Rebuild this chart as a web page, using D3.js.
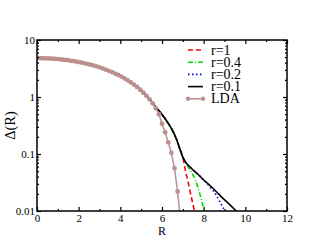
<!DOCTYPE html>
<html>
<head>
<meta charset="utf-8">
<script src="https://cdn.jsdelivr.net/npm/d3@7"></script>
<style>
  body { margin: 0; background: #fff; }
  text { font-family: "Liberation Serif", "DejaVu Serif", serif; }
</style>
</head>
<body>
<div id="chart"></div>
<script>
// LDA curve (R, Delta)
const ldaR = [0, 0.15, 0.3, 0.45, 0.6, 0.75, 0.9, 1.05, 1.2, 1.35, 1.5, 1.65, 1.8, 1.95,
  2.1, 2.25, 2.4, 2.55, 2.7, 2.85, 3.0, 3.15, 3.3, 3.45, 3.6, 3.75, 3.9, 4.05, 4.2, 4.35,
  4.5, 4.65, 4.8, 4.95, 5.1, 5.25, 5.4, 5.55, 5.7, 5.85, 6.0, 6.15, 6.3, 6.45, 6.6, 6.75, 6.9]
const ldaVal = [4.80, 4.80, 4.78, 4.76, 4.74, 4.70, 4.66, 4.61, 4.55, 4.48, 4.41, 4.32, 4.24, 4.14,
  4.04, 3.93, 3.82, 3.70, 3.58, 3.45, 3.31, 3.17, 3.03, 2.88, 2.74, 2.58, 2.43, 2.28, 2.12, 1.96,
  1.81, 1.65, 1.50, 1.34, 1.19, 1.05, 0.91, 0.775, 0.64, 0.50, 0.34, 0.24, 0.16, 0.105, 0.056, 0.022, 0.006]

// part shared by all r curves
const sharedR = [0, 1, 2, 3, 4, 4.5, 5, 5.5, 5.7, 5.9, 6.1, 6.3, 6.5, 6.7, 6.85, 7.0]
const sharedVal = [4.8, 4.62, 4.10, 3.31, 2.33, 1.81, 1.30, 0.83, 0.66, 0.55, 0.44, 0.345, 0.26, 0.18, 0.125, 0.088]

// tails where the r curves split
const r1R = [7.1, 7.2, 7.3, 7.4, 7.5, 7.6, 7.7]
const r1Val = [0.057, 0.039, 0.027, 0.018, 0.0125, 0.0085, 0.0058]
const r04R = [7.1, 7.2, 7.4, 7.6, 7.8, 8.0, 8.1]
const r04Val = [0.076, 0.064, 0.049, 0.035, 0.021, 0.011, 0.0078]
const r02R = [7.1, 7.2, 7.35, 7.5, 7.7, 8.0, 8.3, 8.6, 8.8, 9.0, 9.1]
const r02Val = [0.075, 0.067, 0.059, 0.052, 0.045, 0.035, 0.0265, 0.019, 0.014, 0.0103, 0.0088]
const r01R = [7.1, 7.2, 7.35, 7.5, 7.7, 8.0, 8.3, 8.6, 8.9, 9.2, 9.5, 9.7]
const r01Val = [0.075, 0.067, 0.059, 0.052, 0.045, 0.035, 0.028, 0.022, 0.017, 0.0135, 0.0105, 0.0088]

const xTicks = [0, 2, 4, 6, 8, 10, 12]
const xMinor = [1, 3, 5, 7, 9, 11]
const yTicks = [0.01, 0.1, 1, 10]
const yTickLabels = ["0.01", "0.1", "1", "10"]
const legendLabels = ["r=1", "r=0.4", "r=0.2", "r=0.1", "LDA"]

const width = 323
const height = 249
const marginLeft = 37
const marginRight = 36
const marginTop = 40
const marginBottom = 38

const svg = d3.select('#chart').append('svg')
              .attr('width', width)
              .attr('height', height)
              .attr('viewBox', [0, 0, width, height])
              .style('display', 'block')

const x = d3.scaleLinear().domain([0, 12]).range([marginLeft, width - marginRight])
const y = d3.scaleLog().domain([0.01, 10]).range([height - marginBottom, marginTop])

const zip = (rs, vs) => rs.map((r, i) => [r, vs[i]])
const series = [
  {label: legendLabels[0], data: zip(sharedR, sharedVal).concat(zip(r1R, r1Val)), color: '#ff0000', dash: '5,3'},
  {label: legendLabels[1], data: zip(sharedR, sharedVal).concat(zip(r04R, r04Val)), color: '#00e000', dash: '5,2,1,2'},
  {label: legendLabels[2], data: zip(sharedR, sharedVal).concat(zip(r02R, r02Val)), color: '#0000ff', dash: '1.5,2.5'},
  {label: legendLabels[3], data: zip(sharedR, sharedVal).concat(zip(r01R, r01Val)), color: '#000000', dash: null}
]
const lda = zip(ldaR, ldaVal)
const ldaColor = '#bc8f8f'

svg.append('clipPath').attr('id', 'plot-clip')
   .append('rect')
   .attr('x', marginLeft)
   .attr('y', marginTop)
   .attr('width', width - marginLeft - marginRight)
   .attr('height', height - marginTop - marginBottom)

const line = d3.line().x(d => x(d[0])).y(d => y(d[1])).curve(d3.curveMonotoneX)
const plot = svg.append('g').attr('clip-path', 'url(#plot-clip)')

series.forEach(s => {
  plot.append('path')
      .datum(s.data)
      .attr('d', line)
      .attr('fill', 'none')
      .attr('stroke', s.color)
      .attr('stroke-width', 1.6)
      .attr('stroke-dasharray', s.dash)
})

plot.append('path')
    .datum(lda)
    .attr('d', d3.line().x(d => x(d[0])).y(d => y(d[1])))
    .attr('fill', 'none')
    .attr('stroke', ldaColor)
    .attr('stroke-width', 1.5)

plot.selectAll('circle.lda')
    .data(lda)
    .join('circle')
    .attr('class', 'lda')
    .attr('cx', d => x(d[0]))
    .attr('cy', d => y(d[1]))
    .attr('r', 2.4)
    .attr('fill', ldaColor)

// axes, ticks inward like xmgrace
const yMinor = []
yTicks.slice(0, -1).forEach(t => { for (let k = 2; k <= 9; k++) yMinor.push(t * k) })

const styleAxis = g => {
  g.select('.domain').remove()
  g.selectAll('.tick line').attr('stroke', '#000').attr('stroke-width', 1.2)
  g.selectAll('.tick text').attr('font-family', '"Liberation Serif", serif').attr('font-size', 11).attr('fill', '#000')
}

const bottom = height - marginBottom
const right = width - marginRight

svg.append('g').attr('transform', `translate(0,${bottom})`)
   .call(d3.axisBottom(x).tickValues(xTicks).tickSize(-4).tickPadding(3).tickFormat(d3.format('d')))
   .call(styleAxis)
svg.append('g').attr('transform', `translate(0,${bottom})`)
   .call(d3.axisBottom(x).tickValues(xMinor).tickSize(-2).tickFormat(''))
   .call(styleAxis)
svg.append('g').attr('transform', `translate(0,${marginTop})`)
   .call(d3.axisTop(x).tickValues(xTicks).tickSize(-4).tickFormat(''))
   .call(styleAxis)
svg.append('g').attr('transform', `translate(0,${marginTop})`)
   .call(d3.axisTop(x).tickValues(xMinor).tickSize(-2).tickFormat(''))
   .call(styleAxis)

svg.append('g').attr('transform', `translate(${marginLeft},0)`)
   .call(d3.axisLeft(y).tickValues(yTicks).tickSize(-4).tickPadding(2).tickFormat((d, i) => yTickLabels[i]))
   .call(styleAxis)
svg.append('g').attr('transform', `translate(${marginLeft},0)`)
   .call(d3.axisLeft(y).tickValues(yMinor).tickSize(-2).tickFormat(''))
   .call(styleAxis)
svg.append('g').attr('transform', `translate(${right},0)`)
   .call(d3.axisRight(y).tickValues(yTicks).tickSize(-4).tickFormat(''))
   .call(styleAxis)
svg.append('g').attr('transform', `translate(${right},0)`)
   .call(d3.axisRight(y).tickValues(yMinor).tickSize(-2).tickFormat(''))
   .call(styleAxis)

// frame
svg.append('rect')
   .attr('x', marginLeft)
   .attr('y', marginTop)
   .attr('width', right - marginLeft)
   .attr('height', bottom - marginTop)
   .attr('fill', 'none')
   .attr('stroke', '#000')
   .attr('stroke-width', 1.5)

// axis titles
svg.append('text')
   .attr('x', (marginLeft + right) / 2)
   .attr('y', 235)
   .attr('text-anchor', 'middle')
   .attr('font-size', 12)
   .text('R')
svg.append('text')
   .attr('transform', `translate(15,${(marginTop + bottom) / 2}) rotate(-90)`)
   .attr('text-anchor', 'middle')
   .attr('font-size', 14.5)
   .text('Δ(R)')

// legend
const legend = svg.append('g').attr('transform', 'translate(188,50)')
const rowH = 12.2
series.forEach((s, i) => {
  legend.append('line')
        .attr('x1', 0).attr('x2', 15)
        .attr('y1', i * rowH).attr('y2', i * rowH)
        .attr('stroke', s.color)
        .attr('stroke-width', 1.6)
        .attr('stroke-dasharray', s.dash)
})
legend.append('line')
      .attr('x1', 0).attr('x2', 15)
      .attr('y1', 4 * rowH).attr('y2', 4 * rowH)
      .attr('stroke', ldaColor)
      .attr('stroke-width', 1.5)
legend.selectAll('circle')
      .data([0, 15])
      .join('circle')
      .attr('cx', d => d)
      .attr('cy', 4 * rowH)
      .attr('r', 2.2)
      .attr('fill', ldaColor)
legend.selectAll('text')
      .data(legendLabels)
      .join('text')
      .attr('x', 23)
      .attr('y', (d, i) => i * rowH + 4.5)
      .attr('font-size', 14)
      .text(d => d)
</script>
</body>
</html>
